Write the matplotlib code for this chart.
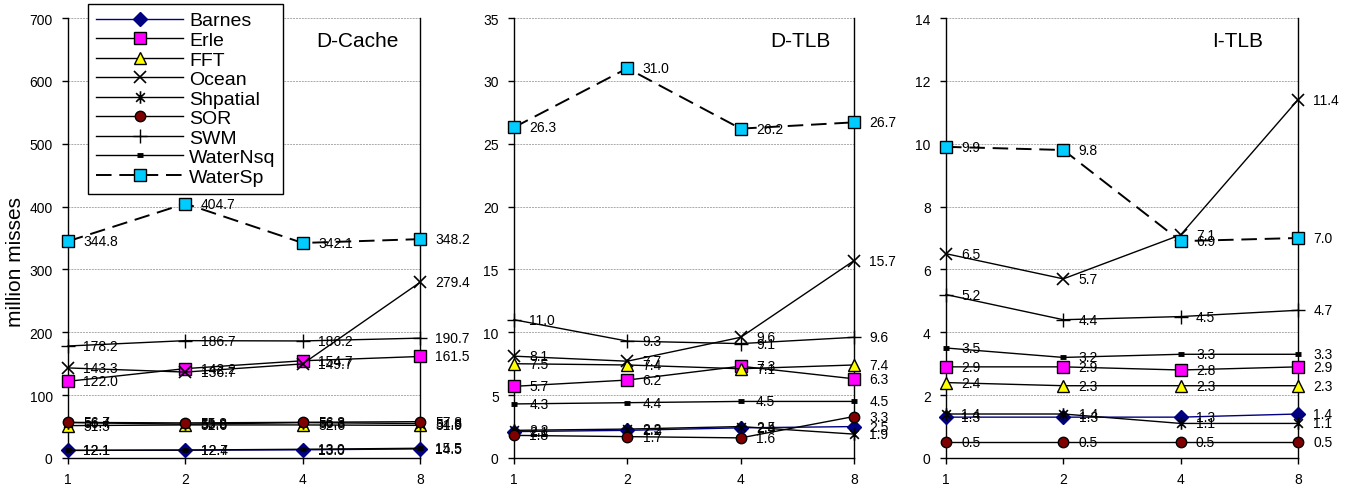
import numpy as np
import matplotlib
matplotlib.use("Agg")
import matplotlib.pyplot as plt
from matplotlib.path import Path

plt.rcParams['font.family'] = ['Liberation Sans', 'DejaVu Sans']

# === DATA ===
threads = ["1", "2", "4", "8"]
series_names = ["Barnes", "Erle", "FFT", "Ocean", "Shpatial", "SOR", "SWM", "WaterNsq", "WaterSp"]

dcache_barnes = [12.1, 12.4, 13.0, 14.5]
dcache_erle = [122.0, 142.2, 154.7, 161.5]
dcache_fft = [51.5, 52.6, 52.6, 51.9]
dcache_ocean = [143.3, 136.7, 149.7, 279.4]
dcache_shpatial = [56.4, 53.8, 56.3, 54.8]
dcache_sor = [56.7, 55.8, 56.8, 57.8]
dcache_swm = [178.2, 186.7, 186.2, 190.7]
dcache_waternsq = [12.1, 12.7, 13.9, 15.5]
dcache_watersp = [344.8, 404.7, 342.1, 348.2]

dtlb_barnes = [2.1, 2.2, 2.4, 2.5]
dtlb_erle = [5.7, 6.2, 7.3, 6.3]
dtlb_fft = [7.5, 7.4, 7.1, 7.4]
dtlb_ocean = [8.1, 7.7, 9.6, 15.7]
dtlb_shpatial = [2.2, 2.3, 2.5, 1.9]
dtlb_sor = [1.8, 1.7, 1.6, 3.3]
dtlb_swm = [11.0, 9.3, 9.1, 9.6]
dtlb_waternsq = [4.3, 4.4, 4.5, 4.5]
dtlb_watersp = [26.3, 31.0, 26.2, 26.7]

itlb_barnes = [1.3, 1.3, 1.3, 1.4]
itlb_erle = [2.9, 2.9, 2.8, 2.9]
itlb_fft = [2.4, 2.3, 2.3, 2.3]
itlb_ocean = [6.5, 5.7, 7.1, 11.4]
itlb_shpatial = [1.4, 1.4, 1.1, 1.1]
itlb_sor = [0.5, 0.5, 0.5, 0.5]
itlb_swm = [5.2, 4.4, 4.5, 4.7]
itlb_waternsq = [3.5, 3.2, 3.3, 3.3]
itlb_watersp = [9.9, 9.8, 6.9, 7.0]

panels = [
    ("D-Cache", [dcache_barnes, dcache_erle, dcache_fft, dcache_ocean, dcache_shpatial,
                 dcache_sor, dcache_swm, dcache_waternsq, dcache_watersp], 700, 100),
    ("D-TLB", [dtlb_barnes, dtlb_erle, dtlb_fft, dtlb_ocean, dtlb_shpatial,
               dtlb_sor, dtlb_swm, dtlb_waternsq, dtlb_watersp], 35, 5),
    ("I-TLB", [itlb_barnes, itlb_erle, itlb_fft, itlb_ocean, itlb_shpatial,
               itlb_sor, itlb_swm, itlb_waternsq, itlb_watersp], 14, 2),
]

# === STYLES ===
asterisk = Path([(0, -1), (0, 1), (-0.7, -0.7), (0.7, 0.7), (-0.7, 0.7), (0.7, -0.7)],
                [Path.MOVETO, Path.LINETO, Path.MOVETO, Path.LINETO, Path.MOVETO, Path.LINETO])

styles = [
    dict(color="#000080", marker="D", ms=7, mfc="#000080", mec="#000080", ls="-"),
    dict(color="black", marker="s", ms=8, mfc="#FF00FF", mec="black", ls="-"),
    dict(color="black", marker="^", ms=9, mfc="#FFFF00", mec="black", ls="-"),
    dict(color="black", marker="x", ms=9, mec="black", mew=1.2, ls="-"),
    dict(color="black", marker=asterisk, ms=9, mec="black", mew=1.2, ls="-"),
    dict(color="black", marker="o", ms=7.5, mfc="#800000", mec="black", ls="-"),
    dict(color="black", marker="+", ms=10, mec="black", mew=1.0, ls="-"),
    dict(color="black", marker="_", ms=5, mec="black", mew=3.5, ls="-"),
    dict(color="black", marker="s", ms=8, mfc="#00CCFF", mec="black", ls=(0, (8, 4)), lw=1.4),
]

fig = plt.figure(figsize=(13.58, 4.89), dpi=100)

ax_rects = [
    [68 / 1358, 30 / 489, 352 / 1358, 440 / 489],
    [514 / 1358, 30 / 489, 340 / 1358, 440 / 489],
    [946 / 1358, 30 / 489, 352 / 1358, 440 / 489],
]
title_pos = [0.94, 0.93, 0.90]

x = np.arange(len(threads))
lines = []
for k, (title, values, ymax, ystep) in enumerate(panels):
    ax = fig.add_axes(ax_rects[k])
    for j, vals in enumerate(values):
        st = dict(styles[j])
        lw = st.pop("lw", 1.0)
        ln, = ax.plot(x, vals, lw=lw, zorder=3 + j, clip_on=False, label=series_names[j], **st)
        if k == 0:
            lines.append(ln)
        for i, v in enumerate(vals):
            ax.annotate(f"{v:.1f}", (x[i], v), xytext=(11, 0), textcoords="offset points",
                        ha="left", va="center", fontsize=10, zorder=20)

    ax.set_xlim(0, len(threads) - 1)
    ax.set_ylim(0, ymax)
    ax.set_yticks(np.arange(0, ymax + ystep / 2, ystep))
    ax.set_xticks(x)
    ax.set_xticklabels(threads)
    ax.grid(axis="y", color="#aaaaaa", lw=0.7, ls=(0, (2, 1)))
    ax.set_axisbelow(True)
    ax.spines["top"].set_visible(False)
    for s in ["left", "right", "bottom"]:
        ax.spines[s].set_linewidth(1.0)
    ax.tick_params(axis="both", direction="out", length=4, width=1, labelsize=10)
    ax.tick_params(axis="y", pad=7)
    ax.tick_params(axis="x", pad=6)
    ax.text(title_pos[k], 0.95, title, transform=ax.transAxes, ha="right", va="center", fontsize=15)

fig.text(16 / 1358, 1 - 262 / 489, "million misses", rotation=90, ha="center", va="center", fontsize=15)

leg = fig.legend(handles=lines, loc="upper left", bbox_to_anchor=(88 / 1358, 1 - 5 / 489),
                 borderaxespad=0, fontsize=14, handlelength=4.5, handletextpad=0.3,
                 labelspacing=0.1, borderpad=0.4, fancybox=False, framealpha=1,
                 edgecolor="black")
leg.get_frame().set_linewidth(1.0)
leg.set_zorder(30)

plt.savefig("out.png", dpi=100)
